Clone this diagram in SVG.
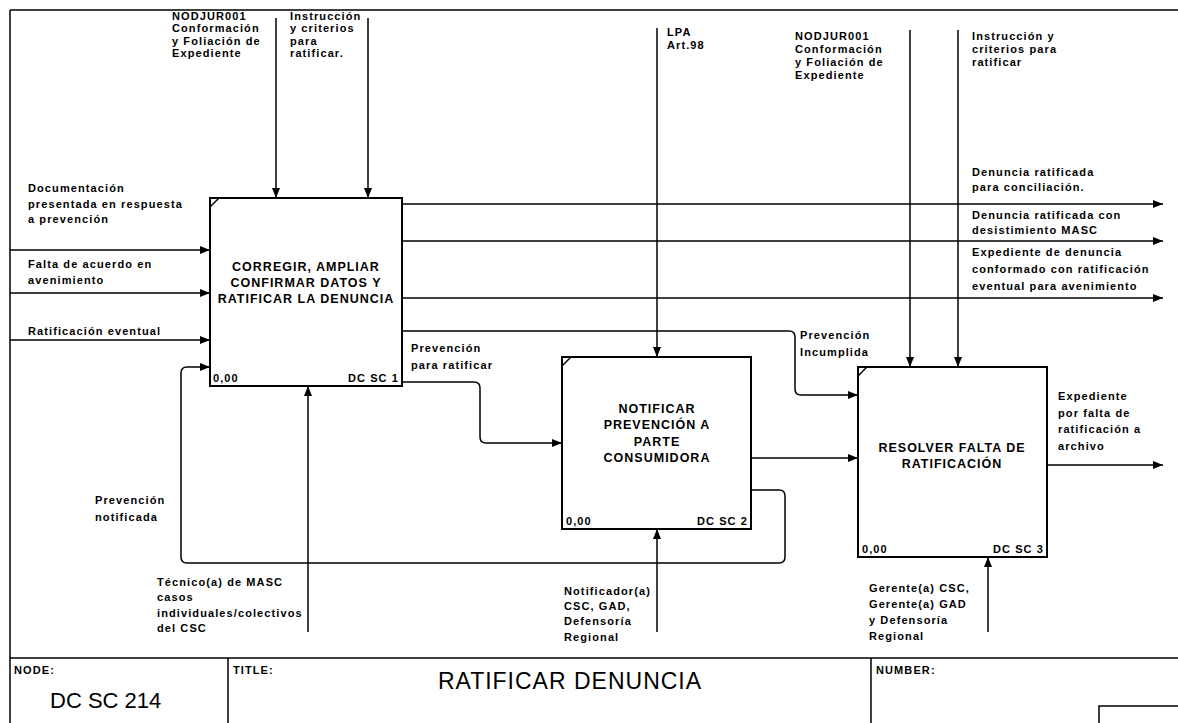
<svg xmlns="http://www.w3.org/2000/svg" width="1178" height="723" viewBox="0 0 1178 723">
<defs>
<marker id="ah" viewBox="0 0 10 8" refX="10" refY="4" markerWidth="10" markerHeight="8" markerUnits="userSpaceOnUse" orient="auto"><path d="M0,0 L10,4 L0,8 z" fill="#000"/></marker>
</defs>
<style>
.lbl{font-family:"Liberation Sans",Arial,sans-serif;font-size:11px;font-weight:bold;letter-spacing:1.1px;fill:#000}
.ttl{font-family:"Liberation Sans",Arial,sans-serif;font-size:12.5px;font-weight:bold;letter-spacing:1px;fill:#000;text-anchor:middle}
.end{text-anchor:end}
.box{fill:#fff;stroke:#000;stroke-width:2}
.corner{fill:none;stroke:#000;stroke-width:1.5}
.conn{fill:none;stroke:#000;stroke-width:1.5}
.arr{marker-end:url(#ah)}
.frame{fill:none;stroke:#000;stroke-width:1.5}
.big{font-family:"Liberation Sans",Arial,sans-serif;fill:#000}
</style>
<rect width="1178" height="723" fill="#fff"/>
<g id="frame">
<path class="frame" d="M10,10 H1178 M10,10 V723 M10,658 H1178 M228,658 V723 M871,658 V723 M1099,723 V706 H1178"/>
<text class="lbl" x="14" y="674">NODE:</text>
<text class="big" x="50" y="708" font-size="22">DC SC 214</text>
<text class="lbl" x="233" y="674">TITLE:</text>
<text class="big" x="570" y="689" font-size="23" letter-spacing="1" text-anchor="middle">RATIFICAR DENUNCIA</text>
<text class="lbl" x="876" y="674">NUMBER:</text>
</g>
<g id="connectors">
<path class="conn arr" d="M276,18 V198"/>
<path class="conn arr" d="M368,18 V198"/>
<path class="conn arr" d="M657,28 V357"/>
<path class="conn arr" d="M910,30 V367"/>
<path class="conn arr" d="M958,30 V367"/>
<path class="conn arr" d="M10,250 H210"/>
<path class="conn arr" d="M10,293 H210"/>
<path class="conn arr" d="M10,340 H210"/>
<path class="conn arr" d="M751,490 H779 Q785,490 785,496 V557 Q785,563 779,563 H187 Q181,563 181,557 V373 Q181,367 187,367 H210"/>
<path class="conn arr" d="M402,204 H1163"/>
<path class="conn arr" d="M402,241 H1163"/>
<path class="conn arr" d="M402,298 H1163"/>
<path class="conn arr" d="M402,331 H789 Q795,331 795,337 V389 Q795,395 801,395 H858"/>
<path class="conn arr" d="M402,382 H474 Q480,382 480,388 V437 Q480,443 486,443 H562"/>
<path class="conn arr" d="M751,458 H858"/>
<path class="conn arr" d="M1047,465 H1163"/>
<path class="conn arr" d="M308,632 V386"/>
<path class="conn arr" d="M657,632 V529"/>
<path class="conn arr" d="M988,632 V557"/>
</g>
<g id="node1">
<rect class="box" x="210" y="198" width="192" height="188"/>
<path class="corner" d="M210,207 L219,198"/>
<text class="ttl" x="306" y="271">CORREGIR, AMPLIAR</text>
<text class="ttl" x="306" y="287">CONFIRMAR DATOS Y</text>
<text class="ttl" x="306" y="303">RATIFICAR LA DENUNCIA</text>
<text class="lbl" x="213" y="382">0,00</text>
<text class="lbl end" x="399" y="382">DC SC 1</text>
</g>
<g id="node2">
<rect class="box" x="562" y="357" width="189" height="172"/>
<path class="corner" d="M562,366 L571,357"/>
<text class="ttl" x="657" y="413">NOTIFICAR</text>
<text class="ttl" x="657" y="429">PREVENCIÓN A</text>
<text class="ttl" x="657" y="446">PARTE</text>
<text class="ttl" x="657" y="462">CONSUMIDORA</text>
<text class="lbl" x="566" y="525">0,00</text>
<text class="lbl end" x="748" y="525">DC SC 2</text>
</g>
<g id="node3">
<rect class="box" x="858" y="367" width="189" height="190"/>
<path class="corner" d="M858,376 L867,367"/>
<text class="ttl" x="952" y="452">RESOLVER FALTA DE</text>
<text class="ttl" x="952" y="468">RATIFICACIÓN</text>
<text class="lbl" x="862" y="553">0,00</text>
<text class="lbl end" x="1044" y="553">DC SC 3</text>
</g>
<g id="labels">
<text class="lbl" x="172" y="20">NODJUR001</text>
<text class="lbl" x="172" y="32">Conformación</text>
<text class="lbl" x="172" y="45">y Foliación de</text>
<text class="lbl" x="172" y="57">Expediente</text>
<text class="lbl" x="290" y="20">Instrucción</text>
<text class="lbl" x="290" y="32">y criterios</text>
<text class="lbl" x="290" y="45">para</text>
<text class="lbl" x="290" y="57">ratificar.</text>
<text class="lbl" x="667" y="36">LPA</text>
<text class="lbl" x="667" y="49">Art.98</text>
<text class="lbl" x="795" y="40">NODJUR001</text>
<text class="lbl" x="795" y="53">Conformación</text>
<text class="lbl" x="795" y="66">y Foliación de</text>
<text class="lbl" x="795" y="79">Expediente</text>
<text class="lbl" x="972" y="40">Instrucción y</text>
<text class="lbl" x="972" y="53">criterios para</text>
<text class="lbl" x="972" y="66">ratificar</text>
<text class="lbl" x="972" y="176">Denuncia ratificada</text>
<text class="lbl" x="972" y="191">para conciliación.</text>
<text class="lbl" x="972" y="219">Denuncia ratificada con</text>
<text class="lbl" x="972" y="234">desistimiento MASC</text>
<text class="lbl" x="972" y="256">Expediente de denuncia</text>
<text class="lbl" x="972" y="273">conformado con ratificación</text>
<text class="lbl" x="972" y="290">eventual para avenimiento</text>
<text class="lbl" x="28" y="192">Documentación</text>
<text class="lbl" x="28" y="208">presentada en respuesta</text>
<text class="lbl" x="28" y="223">a prevención</text>
<text class="lbl" x="28" y="268">Falta de acuerdo en</text>
<text class="lbl" x="28" y="284">avenimiento</text>
<text class="lbl" x="28" y="335">Ratificación eventual</text>
<text class="lbl" x="411" y="352">Prevención</text>
<text class="lbl" x="411" y="369">para ratificar</text>
<text class="lbl" x="800" y="339">Prevención</text>
<text class="lbl" x="800" y="356">Incumplida</text>
<text class="lbl" x="1058" y="400">Expediente</text>
<text class="lbl" x="1058" y="417">por falta de</text>
<text class="lbl" x="1058" y="433">ratificación a</text>
<text class="lbl" x="1058" y="450">archivo</text>
<text class="lbl" x="95" y="504">Prevención</text>
<text class="lbl" x="95" y="521">notificada</text>
<text class="lbl" x="157" y="586">Técnico(a) de MASC</text>
<text class="lbl" x="157" y="601">casos</text>
<text class="lbl" x="157" y="617">individuales/colectivos</text>
<text class="lbl" x="157" y="632">del CSC</text>
<text class="lbl" x="564" y="595">Notificador(a)</text>
<text class="lbl" x="564" y="610">CSC, GAD,</text>
<text class="lbl" x="564" y="625">Defensoría</text>
<text class="lbl" x="564" y="641">Regional</text>
<text class="lbl" x="869" y="592">Gerente(a) CSC,</text>
<text class="lbl" x="869" y="608">Gerente(a) GAD</text>
<text class="lbl" x="869" y="624">y Defensoría</text>
<text class="lbl" x="869" y="640">Regional</text>
</g>
</svg>
